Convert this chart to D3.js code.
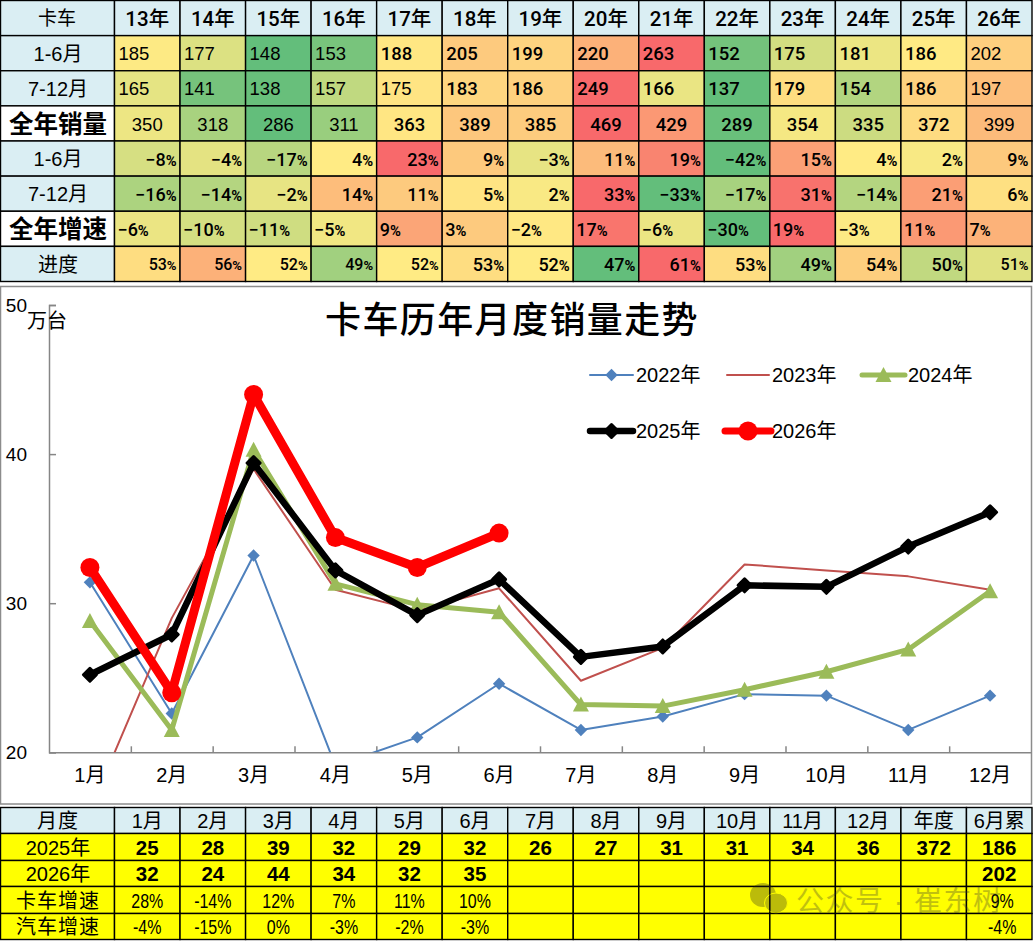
<!DOCTYPE html>
<html><head><meta charset="utf-8">
<script src="https://cdn.jsdelivr.net/npm/d3@7"></script>
<style>
html,body{margin:0;padding:0;background:#fff;overflow:hidden}
svg{display:block}
text{font-family:"Liberation Sans","Noto Sans CJK SC",sans-serif;fill:#000}
text.med{font-family:Roboto,"Noto Sans CJK SC",sans-serif;font-weight:500}
</style></head><body><svg id="c" width="1033" height="941"></svg>
<script>
// ---- top table
const yearLabels=["13年","14年","15年","16年","17年","18年","19年","20年","21年","22年","23年","24年","25年","26年"];
const h1Sales=[185,177,148,153,188,205,199,220,263,152,175,181,186,202];
const h2Sales=[165,141,138,157,175,183,186,249,166,137,179,154,186,197];
const fullSales=[350,318,286,311,363,389,385,469,429,289,354,335,372,399];
const h1Growth=[-8,-4,-17,4,23,9,-3,11,19,-42,15,4,2,9];
const h2Growth=[-16,-14,-2,14,11,5,2,33,-33,-17,31,-14,21,6];
const fullGrowth=[-6,-10,-11,-5,9,3,-2,17,-6,-30,19,-3,11,7];
const progress=[53,56,52,49,52,53,52,47,61,53,49,54,50,51];
const topRowLabels=["1-6月","7-12月","全年销量","1-6月","7-12月","全年增速","进度"];
// ---- line chart
const months=["1月","2月","3月","4月","5月","6月","7月","8月","9月","10月","11月","12月"];
const s2022=[31.4,22.6,33.2,19.1,21.0,24.6,21.5,22.4,23.9,23.8,21.5,23.8];
const s2023=[16.1,29.0,39.0,30.9,29.5,31.0,24.8,27.0,32.6,32.2,31.8,30.9];
const s2024=[28.8,21.5,40.3,31.3,29.9,29.4,23.2,23.1,24.2,25.4,26.9,30.8];
const s2025=[25.2,27.9,39.4,32.2,29.2,31.6,26.4,27.1,31.2,31.1,33.8,36.1];
const s2026=[32.4,24.0,44.0,34.4,32.4,34.7];
// ---- bottom table
const bottomHeader=["1月","2月","3月","4月","5月","6月","7月","8月","9月","10月","11月","12月","年度","6月累"];
const bottomLabels=["月度","2025年","2026年","卡车增速","汽车增速"];
const rounded2025=["25","28","39","32","29","32","26","27","31","31","34","36","372","186"];
const rounded2026=["32","24","44","34","32","35","","","","","","","","202"];
const truckGrowth=["28%","-14%","12%","7%","11%","10%","","","","","","","","9%"];
const autoGrowth=["-4%","-15%","0%","-3%","-2%","-3%","","","","","","","","-4%"];

const svg=d3.select("#c");
const colX=d3.scaleLinear().domain([0,14]).range([114.5,1032]);
const GREEN="#63BE7B",YEL="#FFEB84",RED="#F8696B";
const HEAD="#DAEEF3";
const LINE="#000";

function cell(x0,x1,y0,y1,fill){
  svg.append("rect").attr("x",x0).attr("y",y0).attr("width",x1-x0).attr("height",y1-y0)
    .attr("fill",fill).attr("stroke",LINE).attr("stroke-width",1.4);
}
function label(x,y,t,size,opt={}){
  const n=svg.append("text").attr("y",y).attr("dy",".36em")
    .attr("text-anchor",opt.anchor||"middle").attr("font-size",size);
  if(opt.sx) n.attr("x",0).attr("transform",`translate(${x},0) scale(${opt.sx},1)`); else n.attr("x",x);
  if(opt.cls) n.attr("class",opt.cls); else n.attr("font-weight",opt.weight||400);
  if(opt.ls) n.attr("letter-spacing",opt.ls);
  if(opt.pct&&t.endsWith("%")){
    n.append("tspan").text(t.slice(0,-1));
    n.append("tspan").attr("font-weight",opt.pctWeight||400).attr("font-size",size*(opt.pctScale||.85)).text("%");
  } else n.text(t);
  return n;
}

// top table
const topRow=d3.scaleLinear().domain([0,8]).range([0.5,281.5]);
cell(0.5,colX(0),topRow(0),topRow(1),HEAD);
label(57,topRow(.5)+.5,"卡车",19);
yearLabels.forEach((t,i)=>{
  cell(colX(i),colX(i+1),topRow(0),topRow(1),HEAD);
  label((colX(i)+colX(i+1))/2,topRow(.5)+.5,t,20.5,{cls:"med"});
});
const rows=[
 {v:h1Sales,fmt:String,align:"left"},
 {v:h2Sales,fmt:String,align:"left"},
 {v:fullSales,fmt:String,align:"middle"},
 {v:h1Growth,fmt:pct,align:"right",p:1},
 {v:h2Growth,fmt:pct,align:"right",p:1},
 {v:fullGrowth,fmt:pct,align:"left",p:1},
 {v:progress,fmt:d=>d+"%",align:"right",p:1}
];
function pct(d){return (d<0?"−":"")+Math.abs(d)+"%";}
rows.forEach((r,ri)=>{
  const y0=topRow(ri+1),y1=topRow(ri+2),yc=(y0+y1)/2+.5;
  const strong=ri===2||ri===5;
  cell(0.5,colX(0),y0,y1,strong?"#fff":HEAD);
  label(58,yc,topRowLabels[ri],strong?24.5:20,{weight:strong?700:400});
  const ext=d3.extent(r.v);
  const color=d3.scaleLinear().domain([ext[0],d3.median(r.v),ext[1]]).range([GREEN,YEL,RED]);
  r.v.forEach((v,i)=>{
    const x0=colX(i),x1=colX(i+1);
    cell(x0,x1,y0,y1,color(v));
    const t=r.fmt(v);
    if(r.p){
      const xp=r.align==="left"?x0+3:x1-3.5;
      const small=ri===6&&(i<=4||i===13);
      label(xp,yc,t,small?16:18,{cls:"med",anchor:r.align==="left"?"start":"end",pct:true,pctWeight:700,pctScale:.82});
    } else {
      const bold=i>=4&&i<=12&&!(ri===1&&i===4);
      const xp=r.align==="left"?x0+4:(x0+x1)/2;
      const opt={anchor:r.align==="left"?"start":"middle"};
      if(bold) opt.cls="med";
      label(xp,yc,t,18.5,opt);
    }
  });
});

// chart frame
svg.append("rect").attr("x",0.5).attr("y",286.5).attr("width",1031).attr("height",517.5)
  .attr("fill","#fff").attr("stroke","#8c8c8c").attr("stroke-width",1.5);

const PL=49,PR=1031,PT=305,PB=752.3;
const x=d3.scaleBand().domain(months).range([PL,PR]);
const xc=m=>x(m)+x.bandwidth()/2;
const y=d3.scaleLinear().domain([20,50]).range([PB,PT]);
const AX="#868686";

const gy=svg.append("g").attr("transform",`translate(${PL},0)`)
  .call(d3.axisLeft(y).tickValues([20,30,40,50]).tickSizeInner(-7).tickSizeOuter(-7).tickPadding(22));
const gxTick=svg.append("g").attr("transform",`translate(0,${PB})`)
  .call(d3.axisBottom(d3.scaleLinear().domain([0,12]).range([PL,PR])).tickValues(d3.range(1,12)).tickFormat("").tickSizeInner(-6).tickSizeOuter(0));
const gx=svg.append("g").attr("transform",`translate(0,${PB})`)
  .call(d3.axisBottom(x).tickSize(0).tickPadding(16));
gx.select(".domain").remove();
[gy,gxTick].forEach(g=>{g.selectAll("path,line").attr("stroke",AX).attr("stroke-width",1.5);});
gy.selectAll("text").attr("font-size",19).attr("font-family",null);
gx.selectAll("text").attr("font-size",20).attr("font-family",null);

svg.append("defs").append("clipPath").attr("id","plot").append("rect")
  .attr("x",PL).attr("y",PT).attr("width",PR-PL).attr("height",PB-PT);

const series=[
 {name:"2022年",v:s2022,color:"#4F81BD",w:2,mark:"diamond",size:6.2,lx:[590,633],tx:636,ly:375},
 {name:"2023年",v:s2023,color:"#C0504D",w:2,mark:null,lx:[727,769],tx:772,ly:375},
 {name:"2024年",v:s2024,color:"#9BBB59",w:5,mark:"tri",size:8,lx:[862,905],tx:908,ly:375},
 {name:"2025年",v:s2025,color:"#000",w:6.5,mark:"diamond",size:6.5,lx:[590,633],tx:636,ly:431},
 {name:"2026年",v:s2026,color:"#FF0000",w:9,mark:"circle",size:9.5,lx:[725,771],tx:772,ly:431}
];
const lineGen=d3.line().x((d,i)=>xc(months[i])).y(d=>y(d));
function marker(g,s,cx,cy){
  if(s.mark==="circle") g.append("circle").attr("cx",cx).attr("cy",cy).attr("r",s.size).attr("fill",s.color);
  else if(s.mark==="diamond"){
    const r=s.size;
    g.append("path").attr("d",`M${cx},${cy-r}L${cx+r},${cy}L${cx},${cy+r}L${cx-r},${cy}Z`).attr("fill",s.color)
     .attr("stroke",s.color).attr("stroke-width",s.color==="#000"?3:0).attr("stroke-linejoin","round");
  } else if(s.mark==="tri"){
    const r=s.size;
    g.append("path").attr("d",`M${cx},${cy-r}L${cx+r},${cy+r-1}L${cx-r},${cy+r-1}Z`).attr("fill",s.color);
  }
}
const plot=svg.append("g").attr("clip-path","url(#plot)");
series.forEach(s=>{
  plot.append("path").attr("d",lineGen(s.v)).attr("fill","none").attr("stroke",s.color)
    .attr("stroke-width",s.w).attr("stroke-linejoin","round");
  s.v.forEach((v,i)=>marker(plot,s,xc(months[i]),y(v)));
  svg.append("line").attr("x1",s.lx[0]).attr("x2",s.lx[1]).attr("y1",s.ly).attr("y2",s.ly)
    .attr("stroke",s.color).attr("stroke-width",Math.min(s.w,7)).attr("stroke-linecap","round");
  if(s.mark) marker(svg,s,(s.lx[0]+s.lx[1])/2,s.ly);
  label(s.tx,s.ly,s.name,20,{anchor:"start"});
});
label(47,321,"万台",20);
label(512,320,"卡车历年月度销量走势",36,{cls:"med",ls:1.4});

// bottom table
const botY=[807.5,833.5,860.5,886.5,913.5,939.5];
const botRows=[bottomHeader,rounded2025,rounded2026,truckGrowth,autoGrowth];
botRows.forEach((r,ri)=>{
  const fill=ri===0?HEAD:"#FFFF00";
  const yc=(botY[ri]+botY[ri+1])/2+.5;
  cell(0.5,colX(0),botY[ri],botY[ri+1],fill);
  label(58,yc,bottomLabels[ri],20,{ls:ri===1||ri===2?0:1});
  r.forEach((t,i)=>{
    const x0=colX(i),x1=colX(i+1);
    cell(x0,x1,botY[ri],botY[ri+1],fill);
    if(!t) return;
    const shift=(i===13&&ri>=3)?3:0;
    const opt=ri>=3?{sx:.82,pct:true,pctScale:1}:{weight:(ri===1||ri===2)?700:400};
    label((x0+x1)/2+shift,yc,t,(ri===1||ri===2)?20.5:(ri===0?20:19.5),opt);
  });
});

// watermark
const wm=svg.append("g").attr("opacity",.3);
wm.append("ellipse").attr("cx",763).attr("cy",895).attr("rx",13).attr("ry",12).attr("fill","#222");
wm.append("ellipse").attr("cx",776).attr("cy",903).attr("rx",11.5).attr("ry",10).attr("fill","#222").attr("stroke","#ff0").attr("stroke-width",1);
wm.append("text").attr("x",796).attr("y",911).attr("font-size",28).attr("letter-spacing",1.5).style("fill","#333").text("公众号 · 崔东树");
</script></body></html>
